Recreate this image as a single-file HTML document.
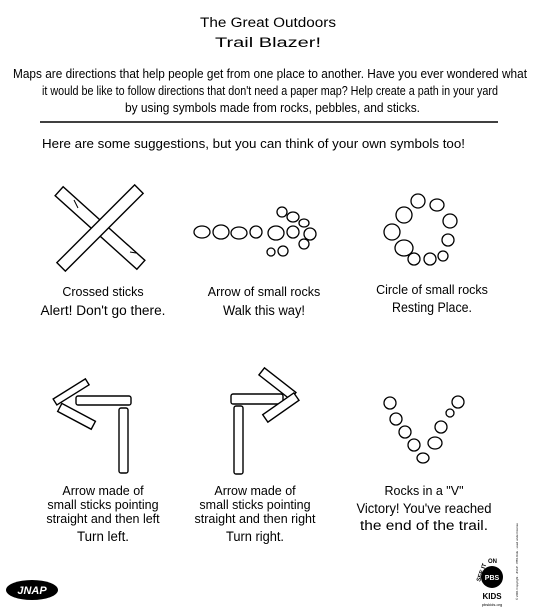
<!DOCTYPE html>
<html><head><meta charset="utf-8"><style>
html,body{margin:0;padding:0;background:#fff;}
svg{display:block;font-family:"Liberation Sans",sans-serif;}
.hand{font-family:"Liberation Sans",sans-serif;font-size:13.5px;}
.cap{font-family:"Liberation Sans Narrow","Liberation Sans",sans-serif;font-size:12.5px;}
.st{fill:#fff;stroke:#000;stroke-width:1.4;}
.rk{fill:#fff;stroke:#000;stroke-width:1.3;}
</style></head><body>
<svg width="540" height="610" viewBox="0 0 540 610">
<g>
<text x="268" y="27" text-anchor="middle" class="hand" font-size="17" textLength="136" lengthAdjust="spacingAndGlyphs">The Great Outdoors</text>
<text x="268" y="47" text-anchor="middle" class="hand" font-size="17" textLength="106" lengthAdjust="spacingAndGlyphs">Trail Blazer!</text>
</g>
<g class="cap" font-size="13">
<text x="13" y="78" textLength="514" lengthAdjust="spacingAndGlyphs">Maps are directions that help people get from one place to another. Have you ever wondered what</text>
<text x="42" y="95" textLength="456" lengthAdjust="spacingAndGlyphs">it would be like to follow directions that don't need a paper map? Help create a path in your yard</text>
<text x="125" y="112" textLength="295" lengthAdjust="spacingAndGlyphs">by using symbols made from rocks, pebbles, and sticks.</text>
</g>
<line x1="40" y1="122" x2="498" y2="122" stroke="#000" stroke-width="1.5"/>
<text x="42" y="148" class="cap" font-size="13" textLength="423" lengthAdjust="spacingAndGlyphs">Here are some suggestions, but you can think of your own symbols too!</text>

<g>
<rect class="st" x="-55" y="-6" width="110" height="12" transform="translate(100,228) rotate(42)"/>
<rect class="st" x="-55" y="-6" width="110" height="12" transform="translate(100,228) rotate(-45)"/>
<path d="M78 208 l-4 -8 M130 252 l6 1" stroke="#000" fill="none"/>
</g>
<g>
<text x="103" y="296" text-anchor="middle" class="cap">Crossed sticks</text>
<text x="103" y="315" text-anchor="middle" class="hand" textLength="125" lengthAdjust="spacingAndGlyphs">Alert! Don't go there.</text>
</g>

<g>
<ellipse class="rk" cx="202" cy="232" rx="8" ry="6"/>
<ellipse class="rk" cx="221" cy="232" rx="8" ry="7"/>
<ellipse class="rk" cx="239" cy="233" rx="8" ry="6"/>
<ellipse class="rk" cx="256" cy="232" rx="6" ry="6"/>
<ellipse class="rk" cx="276" cy="233" rx="8" ry="7"/>
<ellipse class="rk" cx="293" cy="232" rx="6" ry="6"/>
<ellipse class="rk" cx="310" cy="234" rx="6" ry="6"/>
<ellipse class="rk" cx="282" cy="212" rx="5" ry="5"/>
<ellipse class="rk" cx="293" cy="217" rx="6" ry="5"/>
<ellipse class="rk" cx="304" cy="223" rx="5" ry="4"/>
<ellipse class="rk" cx="304" cy="244" rx="5" ry="5"/>
<ellipse class="rk" cx="283" cy="251" rx="5" ry="5"/>
<ellipse class="rk" cx="271" cy="252" rx="4" ry="4"/>
</g>
<g>
<text x="264" y="296" text-anchor="middle" class="cap">Arrow of small rocks</text>
<text x="264" y="315" text-anchor="middle" class="hand" textLength="82" lengthAdjust="spacingAndGlyphs">Walk this way!</text>
</g>

<g>
<ellipse class="rk" cx="418" cy="201" rx="7" ry="7"/>
<ellipse class="rk" cx="437" cy="205" rx="7" ry="6"/>
<ellipse class="rk" cx="404" cy="215" rx="8" ry="8"/>
<ellipse class="rk" cx="450" cy="221" rx="7" ry="7"/>
<ellipse class="rk" cx="392" cy="232" rx="8" ry="8"/>
<ellipse class="rk" cx="448" cy="240" rx="6" ry="6"/>
<ellipse class="rk" cx="404" cy="248" rx="9" ry="8"/>
<ellipse class="rk" cx="443" cy="256" rx="5" ry="5"/>
<ellipse class="rk" cx="430" cy="259" rx="6" ry="6"/>
<ellipse class="rk" cx="414" cy="259" rx="6" ry="6"/>
</g>
<g>
<text x="432" y="294" text-anchor="middle" class="cap">Circle of small rocks</text>
<text x="432" y="312" text-anchor="middle" class="hand" textLength="80" lengthAdjust="spacingAndGlyphs">Resting Place.</text>
</g>

<g>
<rect class="st" x="76" y="396" width="55" height="9" rx="2"/>
<rect class="st" x="119" y="408" width="9" height="65" rx="2"/>
<rect class="st" x="-3" y="-20" width="7" height="38" transform="translate(70,392) rotate(58)"/>
<rect class="st" x="0" y="-4" width="38" height="9" transform="translate(60,407) rotate(28)"/>
</g>
<g>
<text x="103" y="495" text-anchor="middle" class="cap">Arrow made of</text>
<text x="103" y="509" text-anchor="middle" class="cap">small sticks pointing</text>
<text x="103" y="523" text-anchor="middle" class="cap">straight and then left</text>
<text x="103" y="541" text-anchor="middle" class="hand" textLength="52" lengthAdjust="spacingAndGlyphs">Turn left.</text>
</g>

<g>
<rect class="st" x="231" y="394" width="52" height="10" rx="2"/>
<rect class="st" x="234" y="406" width="9" height="68" rx="2"/>
<rect class="st" x="0" y="-4" width="40" height="9" transform="translate(262,371) rotate(38)"/>
<rect class="st" x="0" y="-4" width="38" height="9" transform="translate(265,418) rotate(-35)"/>
</g>
<g>
<text x="255" y="495" text-anchor="middle" class="cap">Arrow made of</text>
<text x="255" y="509" text-anchor="middle" class="cap">small sticks pointing</text>
<text x="255" y="523" text-anchor="middle" class="cap">straight and then right</text>
<text x="255" y="541" text-anchor="middle" class="hand" textLength="58" lengthAdjust="spacingAndGlyphs">Turn right.</text>
</g>

<g>
<ellipse class="rk" cx="390" cy="403" rx="6" ry="6"/>
<ellipse class="rk" cx="396" cy="419" rx="6" ry="6"/>
<ellipse class="rk" cx="405" cy="432" rx="6" ry="6"/>
<ellipse class="rk" cx="414" cy="445" rx="6" ry="6"/>
<ellipse class="rk" cx="423" cy="458" rx="6" ry="5"/>
<ellipse class="rk" cx="435" cy="443" rx="7" ry="6"/>
<ellipse class="rk" cx="441" cy="427" rx="6" ry="6"/>
<ellipse class="rk" cx="450" cy="413" rx="4" ry="4"/>
<ellipse class="rk" cx="458" cy="402" rx="6" ry="6"/>
</g>
<g>
<text x="424" y="495" text-anchor="middle" class="cap">Rocks in a "V"</text>
<text x="424" y="513" text-anchor="middle" class="hand" textLength="135" lengthAdjust="spacingAndGlyphs">Victory! You've reached</text>
<text x="424" y="530" text-anchor="middle" class="hand" textLength="128" lengthAdjust="spacingAndGlyphs">the end of the trail.</text>
</g>

<g>
<ellipse cx="32" cy="590" rx="26" ry="10" fill="#000"/>
<text x="32" y="594" text-anchor="middle" font-size="11" font-weight="bold" fill="#fff" font-style="italic">JNAP</text>
</g>
<g>
<circle cx="492" cy="577" r="11" fill="#000"/>
<text x="492" y="580" text-anchor="middle" font-size="7" font-weight="bold" fill="#fff">PBS</text>
<text x="488" y="563" font-size="6" font-weight="bold">ON</text>
<text x="0" y="0" font-size="6" font-weight="bold" transform="translate(480,582) rotate(-70)">SEE IT</text>
<text x="492" y="599" text-anchor="middle" font-size="8" font-weight="bold">KIDS</text>
<text x="492" y="606" text-anchor="middle" font-size="4">pbskids.org</text>
</g>
<text x="0" y="0" font-size="3" transform="translate(518,600) rotate(-90)">© 2001 Copyright · JNAP · PBS Kids · used under license</text>
</svg>
</body></html>
